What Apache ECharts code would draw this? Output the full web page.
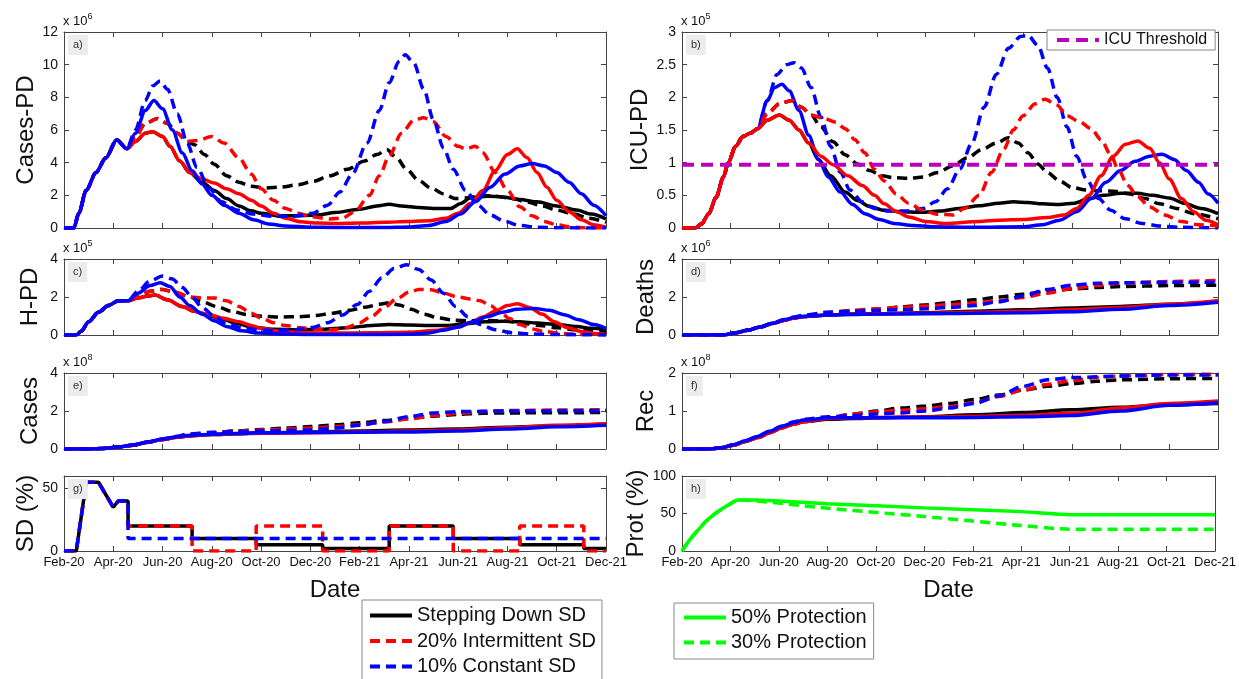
<!DOCTYPE html>
<html>
<head>
<meta charset="utf-8">
<title>SD strategies</title>
<script src="https://cdn.jsdelivr.net/npm/echarts@6/dist/echarts.min.js"></script>
</head>
<body style="margin:0;background:#fff">
<div id="main" style="width:1239px;height:679px;"></div>
<script>
// x values are months counted from Feb-20 (0) to Dec-21 (22)
var dateLabels = ['Feb-20', 'Apr-20', 'Jun-20', 'Aug-20', 'Oct-20', 'Dec-20', 'Feb-21', 'Apr-21', 'Jun-21', 'Aug-21', 'Oct-21', 'Dec-21'];

// a) Cases-PD, x 10^6
var aBlack = [[0,0],[0.4,0],[0.6,0.9],[0.9,2.3],[1.3,3.4],[1.7,4.3],[2.14,5.4],[2.55,4.85],[2.9,5.3],[3.3,5.8],[3.6,5.9],[4.0,5.6],[4.3,5.0],[4.7,4.1],[5.1,3.4],[5.6,2.8],[6.1,2.3],[6.6,1.8],[7.1,1.35],[7.6,1.05],[8,0.9],[8.7,0.75],[9.5,0.75],[10.3,0.8],[11,0.95],[12,1.15],[12.7,1.35],[13.2,1.45],[13.7,1.35],[14.4,1.25],[15,1.2],[15.7,1.2],[16.1,1.5],[16.5,1.85],[17.2,1.95],[17.8,1.9],[18.5,1.75],[19.2,1.6],[20,1.35],[20.8,1.1],[21.4,0.85],[22,0.55]];
var aBlackDash = [[0,0],[0.4,0],[0.6,0.9],[0.9,2.3],[1.3,3.4],[1.7,4.3],[2.14,5.4],[2.55,4.85],[2.9,5.6],[3.3,6.4],[3.8,6.7],[4.2,6.4],[4.6,5.8],[5.0,5.3],[5.3,5.1],[5.7,4.5],[6.1,3.9],[6.6,3.2],[7.1,2.8],[7.6,2.55],[8.2,2.45],[8.8,2.5],[9.5,2.65],[10.1,2.85],[10.8,3.2],[11.5,3.6],[12.2,4.1],[12.7,4.5],[13.1,4.8],[13.5,4.3],[13.9,3.6],[14.4,2.9],[14.9,2.45],[15.4,2.1],[15.9,1.8],[16.4,1.85],[16.9,2.0],[17.5,1.95],[18.2,1.8],[18.8,1.6],[19.4,1.35],[20,1.1],[20.7,0.85],[21.3,0.6],[22,0.35]];
var aRed = [[0,0],[0.4,0],[0.6,0.9],[0.9,2.3],[1.3,3.4],[1.7,4.3],[2.14,5.4],[2.55,4.85],[2.9,5.3],[3.3,5.8],[3.6,5.9],[4.0,5.6],[4.3,5.0],[4.7,4.1],[5.1,3.4],[5.6,3.0],[6.1,2.75],[6.6,2.4],[7.1,2.1],[7.6,1.7],[8,1.35],[8.5,0.9],[9,0.6],[9.6,0.38],[10.3,0.3],[11,0.27],[12,0.3],[13,0.35],[14,0.4],[14.8,0.45],[15.5,0.6],[16,0.9],[16.5,1.5],[17,2.3],[17.5,3.5],[18,4.5],[18.4,4.85],[18.8,4.3],[19.2,3.4],[19.6,2.5],[20,1.7],[20.5,1.0],[21,0.5],[21.5,0.2],[22,0.05]];
var aRedDash = [[0,0],[0.4,0],[0.6,0.9],[0.9,2.3],[1.3,3.4],[1.7,4.3],[2.14,5.4],[2.55,4.85],[2.9,5.6],[3.3,6.4],[3.8,6.7],[4.2,6.4],[4.6,5.8],[5.0,5.3],[5.4,5.35],[6.0,5.6],[6.5,5.2],[7.1,4.3],[7.6,3.3],[8,2.4],[8.5,1.7],[9,1.2],[9.5,0.9],[10,0.7],[10.8,0.55],[11.3,0.6],[11.8,1.0],[12.4,2.0],[12.8,3.2],[13.2,4.4],[13.7,5.8],[14.2,6.6],[14.6,6.75],[15,6.5],[15.5,5.6],[16,5.0],[16.3,4.85],[16.7,5.0],[17,4.6],[17.5,3.4],[18,2.3],[18.5,1.3],[19,0.75],[19.5,0.4],[20,0.2],[20.5,0.08],[21,0.02],[22,0]];
var aBlue = [[0,0],[0.4,0],[0.6,0.9],[0.9,2.3],[1.3,3.4],[1.7,4.3],[2.14,5.4],[2.55,4.85],[2.9,5.8],[3.3,7.2],[3.65,7.8],[4.0,7.3],[4.4,6.0],[4.8,4.6],[5.2,3.5],[5.6,2.7],[6.0,2.0],[6.5,1.4],[7.1,0.9],[7.7,0.5],[8.3,0.25],[9,0.12],[10,0.05],[11,0.03],[13,0.03],[14,0.06],[14.8,0.15],[15.5,0.4],[16.1,0.85],[16.7,1.6],[17.3,2.5],[17.9,3.3],[18.5,3.8],[19,3.95],[19.5,3.8],[20,3.4],[20.5,2.8],[21,2.1],[21.5,1.4],[22,0.75]];
var aBlueDash = [[0,0],[0.4,0],[0.6,0.9],[0.9,2.3],[1.3,3.4],[1.7,4.3],[2.14,5.4],[2.55,4.85],[2.9,6.0],[3.3,7.8],[3.6,8.7],[3.9,9.0],[4.2,8.5],[4.6,7.0],[5.0,5.2],[5.4,3.7],[5.9,2.4],[6.4,1.6],[7,1.1],[7.7,0.85],[8.5,0.72],[9.3,0.72],[10.1,0.9],[10.7,1.4],[11.2,2.2],[11.7,3.3],[12.3,5.2],[12.8,7.2],[13.2,8.9],[13.6,10.2],[13.85,10.6],[14.2,10.1],[14.6,8.5],[15,6.6],[15.4,4.9],[15.8,3.6],[16.3,2.3],[16.8,1.4],[17.3,0.8],[17.9,0.4],[18.5,0.15],[19.2,0.05],[20,0.01],[22,0]];

// b) ICU-PD, x 10^5
var bBlack = [[0,0],[0.55,0],[0.8,0.06],[1.1,0.22],[1.4,0.47],[1.7,0.78],[1.9,1.0],[2.2,1.25],[2.5,1.4],[2.8,1.45],[3.1,1.52],[3.5,1.65],[4.0,1.73],[4.4,1.65],[4.8,1.5],[5.2,1.3],[5.6,1.05],[6.1,0.8],[6.7,0.55],[7.2,0.42],[7.7,0.33],[8.3,0.27],[9,0.25],[9.8,0.24],[10.6,0.26],[11.4,0.3],[12.2,0.34],[13,0.38],[13.6,0.4],[14.2,0.39],[14.8,0.37],[15.5,0.36],[16.1,0.38],[16.7,0.45],[17.3,0.5],[18,0.53],[18.7,0.53],[19.3,0.5],[20,0.46],[20.6,0.38],[21.3,0.3],[22,0.22]];
var bBlackDash = [[0,0],[0.55,0],[0.8,0.06],[1.1,0.22],[1.4,0.47],[1.7,0.78],[1.9,1.0],[2.2,1.25],[2.5,1.4],[2.8,1.45],[3.1,1.52],[3.5,1.75],[4.0,1.9],[4.5,1.95],[4.9,1.85],[5.3,1.73],[5.7,1.55],[6.2,1.32],[6.7,1.12],[7.2,0.98],[7.7,0.88],[8.2,0.8],[8.7,0.77],[9.3,0.76],[9.9,0.78],[10.5,0.85],[11.1,0.95],[11.7,1.07],[12.3,1.2],[12.9,1.3],[13.4,1.38],[13.8,1.3],[14.2,1.15],[14.6,0.98],[15,0.85],[15.5,0.72],[16,0.62],[16.6,0.58],[17.2,0.57],[17.8,0.56],[18.4,0.52],[19,0.45],[19.6,0.37],[20.3,0.3],[21,0.22],[22,0.14]];
var bRed = [[0,0],[0.55,0],[0.8,0.06],[1.1,0.22],[1.4,0.47],[1.7,0.78],[1.9,1.0],[2.2,1.25],[2.5,1.4],[2.8,1.45],[3.1,1.52],[3.5,1.65],[4.0,1.73],[4.4,1.65],[4.8,1.5],[5.2,1.3],[5.7,1.1],[6.2,0.97],[6.8,0.8],[7.4,0.65],[7.9,0.5],[8.3,0.37],[8.8,0.25],[9.3,0.17],[10,0.1],[10.8,0.07],[12.2,0.1],[13,0.12],[14,0.13],[15,0.16],[15.7,0.2],[16.2,0.3],[16.7,0.5],[17.2,0.8],[17.7,1.1],[18.2,1.28],[18.7,1.33],[19.2,1.22],[19.6,1.0],[20,0.75],[20.5,0.45],[21,0.25],[21.5,0.12],[22,0.05]];
var bRedDash = [[0,0],[0.55,0],[0.8,0.06],[1.1,0.22],[1.4,0.47],[1.7,0.78],[1.9,1.0],[2.2,1.25],[2.5,1.4],[2.8,1.45],[3.1,1.52],[3.5,1.75],[4.0,1.9],[4.5,1.95],[4.9,1.85],[5.3,1.73],[5.8,1.68],[6.3,1.62],[6.7,1.52],[7.1,1.35],[7.5,1.15],[7.9,0.9],[8.3,0.72],[8.8,0.52],[9.3,0.38],[9.9,0.27],[10.5,0.21],[11.1,0.2],[11.6,0.3],[12.2,0.5],[12.7,0.85],[13.2,1.2],[13.6,1.5],[14,1.72],[14.5,1.9],[14.9,1.97],[15.4,1.88],[15.8,1.72],[16.3,1.63],[16.8,1.52],[17.2,1.35],[17.6,1.12],[17.9,0.9],[18.3,0.65],[18.7,0.48],[19.2,0.32],[19.8,0.2],[20.5,0.1],[21.2,0.05],[22,0.03]];
var bBlue = [[0,0],[0.55,0],[0.8,0.06],[1.1,0.22],[1.4,0.47],[1.7,0.78],[1.9,1.0],[2.2,1.25],[2.5,1.4],[2.8,1.45],[3.1,1.52],[3.5,1.95],[3.8,2.15],[4.1,2.2],[4.4,2.1],[4.8,1.8],[5.2,1.42],[5.6,1.05],[6.0,0.78],[6.5,0.55],[7.0,0.36],[7.5,0.22],[8.1,0.13],[8.7,0.07],[9.5,0.04],[10.3,0.02],[12,0.01],[14,0.02],[14.8,0.05],[15.5,0.12],[16.2,0.25],[16.8,0.45],[17.4,0.7],[18,0.88],[18.6,1.02],[19.2,1.1],[19.7,1.13],[20.2,1.05],[20.7,0.88],[21.2,0.7],[21.6,0.52],[22,0.38]];
var bBlueDash = [[0,0],[0.55,0],[0.8,0.06],[1.1,0.22],[1.4,0.47],[1.7,0.78],[1.9,1.0],[2.2,1.25],[2.5,1.4],[2.8,1.45],[3.1,1.52],[3.5,1.95],[3.9,2.35],[4.3,2.5],[4.6,2.53],[4.9,2.45],[5.3,2.15],[5.7,1.7],[6.1,1.25],[6.5,0.85],[6.9,0.58],[7.4,0.4],[7.9,0.3],[8.5,0.26],[9.2,0.26],[9.9,0.3],[10.4,0.4],[10.9,0.6],[11.4,0.9],[11.9,1.3],[12.4,1.85],[12.9,2.35],[13.4,2.75],[13.9,2.93],[14.2,2.95],[14.6,2.8],[15,2.45],[15.4,2.0],[15.8,1.55],[16.2,1.1],[16.6,0.75],[17.1,0.45],[17.6,0.27],[18.2,0.14],[18.9,0.07],[19.6,0.03],[20.5,0.01],[22,0]];
var icuThreshold = [[0,0.97],[22,0.97]];

// c) H-PD, x 10^5
var cBlack = [[0,0],[0.5,0],[0.7,0.2],[1.0,0.7],[1.4,1.2],[1.8,1.55],[2.2,1.8],[2.6,1.8],[3.0,1.95],[3.4,2.05],[3.7,2.1],[4.2,1.85],[4.8,1.5],[5.3,1.25],[5.8,1.05],[6.4,0.85],[7,0.6],[7.7,0.4],[8.5,0.3],[9.5,0.28],[10.5,0.3],[11.5,0.38],[12.5,0.5],[13.2,0.55],[14,0.52],[14.8,0.5],[15.6,0.5],[16.3,0.6],[17.1,0.7],[17.8,0.72],[18.5,0.7],[19.2,0.63],[20,0.55],[20.8,0.45],[21.4,0.35],[22,0.28]];
var cBlackDash = [[0,0],[0.5,0],[0.7,0.2],[1.0,0.7],[1.4,1.2],[1.8,1.55],[2.2,1.8],[2.6,1.8],[3.0,2.05],[3.5,2.3],[4.0,2.4],[4.5,2.25],[5.1,2.0],[5.6,1.75],[6.2,1.5],[6.8,1.25],[7.4,1.08],[8.1,0.98],[8.8,0.95],[9.5,0.96],[10.2,1.02],[10.9,1.15],[11.6,1.3],[12.3,1.48],[12.8,1.62],[13.2,1.7],[13.6,1.58],[14.1,1.35],[14.6,1.1],[15.2,0.9],[15.8,0.78],[16.5,0.75],[17.2,0.76],[17.9,0.74],[18.6,0.62],[19.3,0.5],[20,0.38],[20.8,0.27],[21.4,0.2],[22,0.15]];
var cRed = [[0,0],[0.5,0],[0.7,0.2],[1.0,0.7],[1.4,1.2],[1.8,1.55],[2.2,1.8],[2.6,1.8],[3.0,1.95],[3.4,2.05],[3.7,2.1],[4.2,1.85],[4.8,1.5],[5.3,1.25],[5.8,1.1],[6.4,0.9],[7.1,0.7],[7.6,0.5],[8,0.35],[8.7,0.2],[9.7,0.12],[11,0.1],[12.5,0.12],[14,0.15],[15.2,0.25],[15.9,0.4],[16.5,0.65],[17,0.95],[17.5,1.25],[18,1.55],[18.4,1.65],[18.9,1.45],[19.4,1.1],[19.9,0.7],[20.4,0.4],[21,0.18],[21.5,0.08],[22,0.03]];
var cRedDash = [[0,0],[0.5,0],[0.7,0.2],[1.0,0.7],[1.4,1.2],[1.8,1.55],[2.2,1.8],[2.6,1.8],[3.0,2.05],[3.5,2.3],[4.0,2.4],[4.5,2.25],[5.1,2.0],[5.6,1.95],[6.1,1.95],[6.6,1.8],[7.1,1.5],[7.6,1.15],[8,0.9],[8.5,0.65],[9,0.5],[9.6,0.38],[10.3,0.3],[10.9,0.28],[11.5,0.4],[12,0.65],[12.5,1.0],[13,1.45],[13.5,1.9],[14,2.25],[14.4,2.4],[14.9,2.38],[15.4,2.2],[16,2.0],[16.5,1.9],[16.9,1.8],[17.3,1.55],[17.7,1.2],[18.1,0.85],[18.5,0.55],[19,0.32],[19.5,0.18],[20.2,0.08],[21,0.03],[22,0.01]];
var cBlue = [[0,0],[0.5,0],[0.7,0.2],[1.0,0.7],[1.4,1.2],[1.8,1.55],[2.2,1.8],[2.6,1.8],[3.0,2.2],[3.5,2.6],[3.9,2.75],[4.3,2.55],[4.7,2.0],[5.1,1.55],[5.6,1.1],[6.1,0.75],[6.6,0.45],[7.2,0.22],[7.9,0.1],[8.8,0.05],[10,0.03],[12,0.02],[14,0.04],[14.8,0.1],[15.4,0.25],[16,0.42],[16.6,0.7],[17.2,0.98],[17.8,1.2],[18.4,1.35],[19.1,1.4],[19.7,1.3],[20.3,1.07],[20.9,0.8],[21.5,0.55],[22,0.35]];
var cBlueDash = [[0,0],[0.5,0],[0.7,0.2],[1.0,0.7],[1.4,1.2],[1.8,1.55],[2.2,1.8],[2.6,1.8],[3.0,2.3],[3.5,2.85],[4.0,3.1],[4.4,2.95],[4.8,2.5],[5.2,2.0],[5.6,1.45],[6.1,1.0],[6.6,0.6],[7.2,0.38],[7.9,0.27],[8.6,0.24],[9.4,0.28],[10.1,0.4],[10.7,0.65],[11.3,1.05],[11.9,1.6],[12.4,2.3],[12.9,3.0],[13.4,3.5],[13.9,3.7],[14.4,3.45],[14.9,2.9],[15.4,2.2],[15.9,1.5],[16.4,0.95],[16.9,0.55],[17.5,0.28],[18.2,0.12],[19,0.05],[20,0.02],[22,0]];

// d) Deaths, x 10^6
var dBlack = [[0,0],[1.7,0],[2.2,0.12],[2.7,0.25],[3.2,0.42],[3.7,0.6],[4.2,0.78],[4.6,0.9],[5,0.97],[6,1.05],[7,1.1],[8,1.12],[10,1.17],[12,1.25],[14,1.33],[16,1.42],[18,1.5],[20,1.62],[22,1.75]];
var dBlackDash = [[0,0],[1.7,0],[2.2,0.12],[2.7,0.25],[3.2,0.42],[3.7,0.6],[4.2,0.78],[4.6,0.9],[5,1.0],[6,1.15],[7,1.25],[8,1.35],[9,1.48],[10,1.58],[11,1.7],[12,1.85],[13,2.0],[14,2.15],[15,2.3],[16,2.42],[17,2.5],[18,2.55],[20,2.6],[22,2.62]];
var dRed = [[0,0],[1.7,0],[2.2,0.12],[2.7,0.25],[3.2,0.42],[3.7,0.6],[4.2,0.78],[4.6,0.9],[5,0.97],[6,1.05],[7,1.1],[8,1.12],[10,1.15],[12,1.2],[14,1.25],[16,1.33],[18,1.45],[20,1.62],[22,1.82]];
var dRedDash = [[0,0],[1.7,0],[2.2,0.12],[2.7,0.25],[3.2,0.42],[3.7,0.6],[4.2,0.78],[4.6,0.9],[5,1.0],[6,1.2],[7,1.3],[8,1.38],[9,1.45],[10,1.52],[11,1.6],[12,1.68],[13,1.8],[14,1.98],[15,2.2],[16,2.45],[17,2.6],[18,2.72],[19,2.78],[20,2.82],[22,2.87]];
var dBlue = [[0,0],[1.7,0],[2.2,0.12],[2.7,0.25],[3.2,0.42],[3.7,0.62],[4.2,0.8],[4.6,0.92],[5,0.98],[6,1.05],[7,1.08],[8,1.1],[10,1.12],[12,1.15],[14,1.17],[16,1.22],[18,1.35],[20,1.55],[22,1.72]];
var dBlueDash = [[0,0],[1.7,0],[2.2,0.12],[2.7,0.25],[3.2,0.42],[3.7,0.62],[4.2,0.82],[4.6,0.95],[5,1.05],[6,1.2],[7,1.25],[8,1.3],[9,1.33],[10,1.38],[11,1.45],[12,1.55],[13,1.75],[14,2.05],[15,2.4],[16,2.62],[17,2.72],[18,2.75],[20,2.77],[22,2.78]];

// e) Cases, x 10^8
var eBlack = [[0,0],[1,0],[1.6,0.03],[2.2,0.1],[2.8,0.2],[3.4,0.35],[4,0.5],[4.6,0.62],[5,0.68],[6,0.76],[7,0.8],[8,0.85],[10,0.9],[12,0.95],[14,1.0],[16,1.05],[18,1.15],[20,1.23],[22,1.3]];
var eBlackDash = [[0,0],[1,0],[1.6,0.03],[2.2,0.1],[2.8,0.2],[3.4,0.35],[4,0.5],[4.6,0.62],[5,0.72],[6,0.85],[7,0.95],[8,1.02],[9,1.1],[10,1.18],[11,1.27],[12,1.38],[13,1.5],[14,1.62],[15,1.73],[16,1.82],[17,1.88],[18,1.9],[22,1.92]];
var eRed = [[0,0],[1,0],[1.6,0.03],[2.2,0.1],[2.8,0.2],[3.4,0.35],[4,0.5],[4.6,0.62],[5,0.68],[6,0.76],[7,0.8],[8,0.83],[10,0.86],[12,0.9],[14,0.95],[16,1.0],[18,1.12],[20,1.25],[22,1.33]];
var eRedDash = [[0,0],[1,0],[1.6,0.03],[2.2,0.1],[2.8,0.2],[3.4,0.35],[4,0.5],[4.6,0.62],[5,0.72],[6,0.85],[7,0.95],[8,1.0],[9,1.05],[10,1.1],[11,1.17],[12,1.28],[13,1.42],[14,1.58],[15,1.75],[16,1.88],[17,1.97],[18,2.02],[20,2.05],[22,2.07]];
var eBlue = [[0,0],[1,0],[1.6,0.03],[2.2,0.1],[2.8,0.21],[3.4,0.37],[4,0.53],[4.6,0.65],[5,0.71],[6,0.78],[7,0.82],[8,0.85],[10,0.87],[12,0.88],[14,0.9],[16,0.95],[18,1.05],[20,1.17],[22,1.25]];
var eBlueDash = [[0,0],[1,0],[1.6,0.03],[2.2,0.1],[2.8,0.21],[3.4,0.37],[4,0.53],[4.6,0.67],[5,0.78],[6,0.88],[7,0.92],[8,0.95],[10,1.0],[11,1.1],[12,1.25],[13,1.45],[14,1.7],[15,1.9],[16,1.97],[18,2.0],[22,2.02]];

// f) Rec, x 10^8
var fBlack = [[0,0],[1.1,0],[1.6,0.03],[2.1,0.1],[2.6,0.2],[3.1,0.3],[3.6,0.43],[4.1,0.56],[4.6,0.66],[5,0.72],[6,0.78],[7,0.8],[8,0.82],[10,0.85],[12,0.9],[14,0.96],[16,1.03],[18,1.1],[20,1.17],[22,1.2]];
var fBlackDash = [[0,0],[1.1,0],[1.6,0.03],[2.1,0.1],[2.6,0.2],[3.1,0.3],[3.6,0.43],[4.1,0.56],[4.6,0.66],[5,0.72],[6,0.8],[7,0.92],[8,1.0],[9,1.08],[10,1.13],[11,1.2],[12,1.3],[13,1.42],[14,1.55],[15,1.65],[16,1.72],[17,1.78],[18,1.82],[20,1.85],[22,1.86]];
var fRed = [[0,0],[1.1,0],[1.6,0.03],[2.1,0.1],[2.6,0.2],[3.1,0.3],[3.6,0.43],[4.1,0.56],[4.6,0.66],[5,0.72],[6,0.8],[7,0.82],[8,0.83],[10,0.84],[12,0.86],[14,0.89],[16,0.94],[18,1.08],[20,1.2],[22,1.26]];
var fRedDash = [[0,0],[1.1,0],[1.6,0.03],[2.1,0.1],[2.6,0.2],[3.1,0.3],[3.6,0.43],[4.1,0.56],[4.6,0.66],[5,0.72],[6,0.82],[7,0.92],[8,0.98],[9,1.02],[10,1.06],[11,1.12],[12,1.22],[13,1.38],[14,1.55],[15,1.7],[16,1.8],[17,1.88],[18,1.92],[20,1.96],[22,1.97]];
var fBlue = [[0,0],[1.1,0],[1.6,0.03],[2.1,0.11],[2.6,0.22],[3.1,0.33],[3.6,0.47],[4.1,0.6],[4.6,0.7],[5,0.76],[6,0.82],[7,0.82],[8,0.82],[10,0.82],[12,0.83],[14,0.85],[16,0.88],[18,1.0],[20,1.15],[22,1.22]];
var fBlueDash = [[0,0],[1.1,0],[1.6,0.03],[2.1,0.11],[2.6,0.22],[3.1,0.33],[3.6,0.47],[4.1,0.6],[4.6,0.72],[5,0.78],[6,0.85],[7,0.88],[8,0.92],[9,0.95],[10,1.0],[11,1.08],[12,1.2],[13,1.4],[14,1.65],[15,1.82],[16,1.88],[18,1.92],[20,1.95],[22,1.95]];

// g) SD (%)
var gStepping = [[0,0],[0.5,0],[0.9,55],[1.4,55],[2.0,35],[2.2,40],[2.6,40],[2.6,20],[5.2,20],[5.2,10],[7.8,10],[7.8,5],[10.5,5],[10.5,2],[13.2,2],[13.2,20],[15.8,20],[15.8,10],[18.5,10],[18.5,5],[21.1,5],[21.1,2],[22,2]];
var gIntermittent = [[0,0],[0.5,0],[0.9,55],[1.4,55],[2.0,35],[2.2,40],[2.6,40],[2.6,20],[5.2,20],[5.2,0],[7.8,0],[7.8,20],[10.5,20],[10.5,0],[13.2,0],[13.2,20],[15.8,20],[15.8,0],[18.5,0],[18.5,20],[21.1,20],[21.1,0],[22,0]];
var gConstant = [[0,0],[0.5,0],[0.9,55],[1.4,55],[2.0,35],[2.2,40],[2.6,40],[2.6,10],[22,10]];

// h) Prot (%)
var hProt50 = [[0,0],[0.25,12],[0.5,22],[0.75,31],[1,40],[1.5,53],[2,63],[2.3,68],[3,68],[6,63],[10,57.5],[14,52.5],[16,48.5],[22,48.5]];
var hProt30 = [[0,0],[0.25,12],[0.5,22],[0.75,31],[1,40],[1.5,53],[2,63],[2.3,68],[3,67],[6,57],[10,46],[14,34],[16,29],[22,29]];

var FONT = 'Liberation Sans, Arial, sans-serif';
var AX = '#444';

var lineStyles = [
    {color: '#000000', dash: false},
    {color: '#000000', dash: true},
    {color: '#ff0000', dash: false},
    {color: '#ff0000', dash: true},
    {color: '#0000ff', dash: false},
    {color: '#0000ff', dash: true}
];

var panels = [
    {tag: 'a)', name: 'Cases-PD', exp: '6', max: 12, step: 2, left: 64, top: 32, width: 542, height: 196, lines: [aBlack, aBlackDash, aRed, aRedDash, aBlue, aBlueDash]},
    {tag: 'b)', name: 'ICU-PD', exp: '5', max: 3, step: 0.5, left: 682, top: 32, width: 536, height: 196, lines: [bBlack, bBlackDash, bRed, bRedDash, bBlue, bBlueDash], order: [0, 1, 4, 5, 2, 3]},
    {tag: 'c)', name: 'H-PD', exp: '5', max: 4, step: 2, left: 64, top: 259, width: 542, height: 76, lines: [cBlack, cBlackDash, cRed, cRedDash, cBlue, cBlueDash]},
    {tag: 'd)', name: 'Deaths', exp: '6', max: 4, step: 2, left: 682, top: 259, width: 536, height: 76, lines: [dBlack, dBlackDash, dRed, dRedDash, dBlue, dBlueDash]},
    {tag: 'e)', name: 'Cases', exp: '8', max: 4, step: 2, left: 64, top: 373, width: 542, height: 76, lines: [eBlack, eBlackDash, eRed, eRedDash, eBlue, eBlueDash]},
    {tag: 'f)', name: 'Rec', exp: '8', max: 2, step: 1, left: 682, top: 373, width: 536, height: 76, lines: [fBlack, fBlackDash, fRed, fRedDash, fBlue, fBlueDash]},
    {tag: 'g)', name: 'SD (%)', exp: null, max: 60, step: 50, left: 64, top: 476, width: 542, height: 75, dates: true},
    {tag: 'h)', name: 'Prot (%)', exp: null, max: 100, step: 50, left: 682, top: 476, width: 536, height: 75, dates: true}
];

var grids = [], xAxes = [], yAxes = [], series = [], graphics = [];

panels.forEach(function (p, i) {
    grids.push({left: p.left, top: p.top, width: p.width, height: p.height});
    var tick = {show: true, inside: true, length: 5, lineStyle: {color: AX, width: 1}};
    var line = {show: true, onZero: false, lineStyle: {color: AX, width: 1}};
    xAxes.push({
        gridIndex: i, type: 'value', min: 0, max: 22, interval: 2, position: 'bottom',
        axisLine: line, axisTick: tick, splitLine: {show: false},
        axisLabel: {show: !!p.dates, margin: 5, color: '#111', fontSize: 13, fontFamily: FONT,
            formatter: function (v) { return dateLabels[Math.round(v / 2)]; }},
        name: p.dates ? 'Date' : '', nameLocation: 'middle', nameGap: 27,
        nameTextStyle: {fontSize: 24, fontFamily: FONT, color: '#111'}
    });
    xAxes.push({
        gridIndex: i, type: 'value', min: 0, max: 22, interval: 2, position: 'top',
        axisLine: line, axisTick: tick, axisLabel: {show: false}, splitLine: {show: false}
    });
    yAxes.push({
        gridIndex: i, type: 'value', min: 0, max: p.max, interval: p.step, position: 'left',
        axisLine: line, axisTick: tick, splitLine: {show: false},
        axisLabel: {margin: 6, color: '#111', fontSize: 14, fontFamily: FONT, showMaxLabel: p.max % p.step === 0},
        name: p.name, nameLocation: 'middle', nameRotate: 90, nameGap: i % 2 ? 24 : 22,
        nameTextStyle: {fontSize: 24, fontFamily: FONT, color: '#111'}
    });
    yAxes.push({
        gridIndex: i, type: 'value', min: 0, max: p.max, interval: p.step, position: 'right',
        axisLine: line, axisTick: tick, axisLabel: {show: false}, splitLine: {show: false}
    });

    if (p.lines) {
        var order = p.order || [0, 1, 2, 3, 4, 5];
        order.forEach(function (k) {
            var st = lineStyles[k];
            series.push({
                type: 'line', xAxisIndex: 2 * i, yAxisIndex: 2 * i, data: p.lines[k],
                symbol: 'none', smooth: 0.3, smoothMonotone: 'x', silent: true,
                lineStyle: {color: st.color, width: 3.5, type: st.dash ? [10, 6] : 'solid'}
            });
        });
    }

    if (p.exp) {
        graphics.push({
            type: 'text', left: p.left - 1, top: p.top - 20,
            style: {text: 'x 10{s|' + p.exp + '}', fill: '#111', font: '13px ' + FONT,
                rich: {s: {fontSize: 9, fontFamily: FONT, fill: '#111', padding: [0, 0, 9, 0]}}}
        });
    }
    graphics.push({
        type: 'text', left: p.left + 4, top: p.top + 3, z: 100,
        style: {text: p.tag, fill: '#333', font: '11px ' + FONT, backgroundColor: '#ececec', padding: [4, 5, 5, 5]}
    });
});

// ICU threshold on panel b
series.push({
    name: 'ICU Threshold', type: 'line', xAxisIndex: 2, yAxisIndex: 2, data: icuThreshold,
    symbol: 'none', silent: true, itemStyle: {color: '#bb00bb'},
    lineStyle: {color: '#bb00bb', width: 4, type: [12, 7]}
});

// g) SD panel
[
    {name: 'Stepping Down SD', data: gStepping, color: '#000000', dash: false},
    {name: '20% Intermittent SD', data: gIntermittent, color: '#ff0000', dash: true},
    {name: '10% Constant SD', data: gConstant, color: '#0000ff', dash: true}
].forEach(function (s) {
    series.push({
        name: s.name, type: 'line', xAxisIndex: 12, yAxisIndex: 12, data: s.data,
        symbol: 'none', silent: true, itemStyle: {color: s.color},
        lineStyle: {color: s.color, width: 3.5, type: s.dash ? [10, 6] : 'solid'}
    });
});

// h) protection panel
[
    {name: '50% Protection', data: hProt50, dash: false},
    {name: '30% Protection', data: hProt30, dash: true}
].forEach(function (s) {
    series.push({
        name: s.name, type: 'line', xAxisIndex: 14, yAxisIndex: 14, data: s.data,
        symbol: 'none', silent: true, smooth: 0.2, itemStyle: {color: '#00ff00'},
        lineStyle: {color: '#00ff00', width: 3.5, type: s.dash ? [10, 6] : 'solid'}
    });
});

var legendBase = {
    orient: 'vertical', backgroundColor: '#fff', borderColor: '#888', borderWidth: 1,
    itemWidth: 42, itemHeight: 14, selectedMode: false,
    itemStyle: {opacity: 0},
    lineStyle: {width: 4},
    textStyle: {fontSize: 20, lineHeight: 21, fontFamily: FONT, color: '#111'}
};

var option = {
    animation: false,
    backgroundColor: '#fff',
    grid: grids,
    xAxis: xAxes,
    yAxis: yAxes,
    legend: [
        Object.assign({}, legendBase, {data: ['Stepping Down SD', '20% Intermittent SD', '10% Constant SD'],
            left: 362, top: 600, height: 100, padding: [5, 6, 8, 6], itemGap: 4.5}),
        Object.assign({}, legendBase, {data: ['50% Protection', '30% Protection'],
            left: 674, top: 603, padding: [4, 7, 6, 8], itemGap: 4}),
        Object.assign({}, legendBase, {data: ['ICU Threshold'], left: 1047, top: 30,
            itemWidth: 42, padding: [1, 8, 1, 8], textStyle: {fontSize: 16, lineHeight: 18, fontFamily: FONT, color: '#111'}})
    ],
    graphic: graphics,
    series: series
};

var myChart = echarts.init(document.getElementById('main'));
myChart.setOption(option);
</script>
</body>
</html>
